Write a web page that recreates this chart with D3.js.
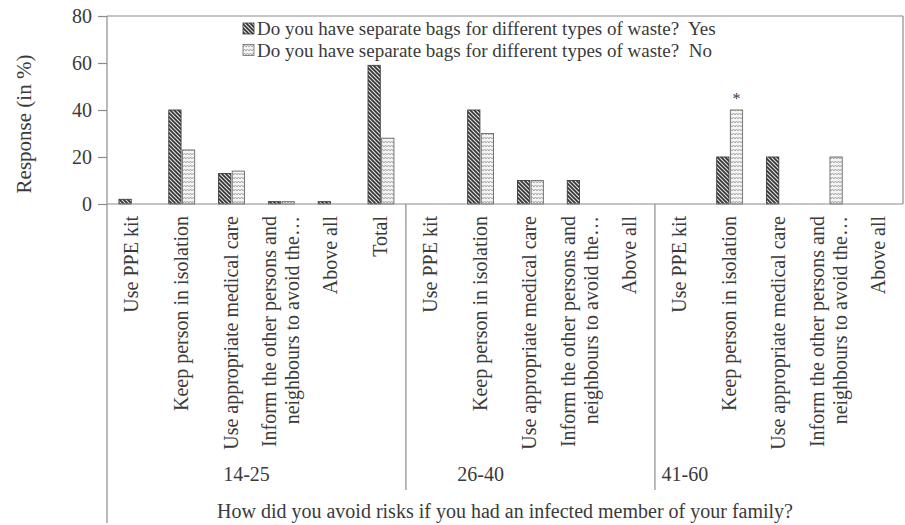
<!DOCTYPE html>
<html>
<head>
<meta charset="utf-8">
<script src="https://cdn.jsdelivr.net/npm/d3@7"></script>
<style>
  html, body { margin: 0; padding: 0; background: #fff; }
  svg { display: block; font-family: "Liberation Serif", "Times New Roman", serif; }
</style>
</head>
<body>
<svg id="chart" width="905" height="525"></svg>
<script>
// ---- data ----
const groups = ["14-25", "26-40", "41-60"];
const groupCategories = [
  ["Use PPE kit", "Keep person in isolation", "Use appropriate medical care", "Inform the other persons and|neighbours to avoid the…", "Above all", "Total"],
  ["Use PPE kit", "Keep person in isolation", "Use appropriate medical care", "Inform the other persons and|neighbours to avoid the…", "Above all"],
  ["Use PPE kit", "Keep person in isolation", "Use appropriate medical care", "Inform the other persons and|neighbours to avoid the…", "Above all"]
];
const seriesNames = [
  "Do you have separate bags for different types of waste?  Yes",
  "Do you have separate bags for different types of waste?  No"
];
const yesValues = [2, 40, 13, 1, 1, 59,   0, 40, 10, 10, 0,   0, 20, 20, 0, 0];
const noValues  = [0, 23, 14, 1, 0, 28,   0, 30, 10, 0, 0,    0, 40, 0, 20, 0];
const yTicks = [0, 20, 40, 60, 80];
const annotations = [{ index: 12, series: 1, text: "*" }];
const yTitle = "Response (in %)";
const xTitle = "How did you avoid risks if you had an infected member of your family?";

// ---- layout ----
const W = 905, H = 525;
const plot = { left: 107, right: 904, top: 16, bottom: 204 };
const textColor = "#3a3a3a";
const lineColor = "#8c8c8c";

const svg = d3.select("#chart");

// flatten categories
const cats = [];
groups.forEach((g, gi) => groupCategories[gi].forEach((c, ci) => cats.push({ key: g + "|" + ci, group: g, gi, label: c })));
cats.forEach((c, i) => { c.yes = yesValues[i]; c.no = noValues[i]; });

const x0 = d3.scaleBand().domain(cats.map(c => c.key)).range([plot.left, plot.right]).padding(0);
const step = x0.step();
const x1 = d3.scaleBand().domain(["yes", "no"]).range([step * 0.24, step * 0.76]).paddingInner(0.1);
const y = d3.scaleLinear().domain([0, 80]).range([plot.bottom, plot.top]);

// ---- patterns ----
const defs = svg.append("defs");
const pYes = defs.append("pattern").attr("id", "pYes").attr("patternUnits", "userSpaceOnUse")
  .attr("width", 4).attr("height", 4);
pYes.append("rect").attr("width", 4).attr("height", 4).attr("fill", "#e0e0e0");
pYes.append("path").attr("d", "M-1,-1 L5,5 M-1,3 L1,5 M3,-1 L5,1").attr("stroke", "#333").attr("stroke-width", 1.6);

const pNo = defs.append("pattern").attr("id", "pNo").attr("patternUnits", "userSpaceOnUse")
  .attr("width", 6).attr("height", 4);
pNo.append("rect").attr("width", 6).attr("height", 4).attr("fill", "#f4f4f4");
pNo.append("path").attr("d", "M0,3 L1.5,1 L3,3 L4.5,1 L6,3").attr("fill", "none").attr("stroke", "#a8a8a8").attr("stroke-width", 1);

// ---- plot frame (top and right) ----
svg.append("line").attr("x1", plot.left).attr("x2", plot.right - 1).attr("y1", plot.top).attr("y2", plot.top)
  .attr("stroke", lineColor).attr("stroke-width", 1.2);
svg.append("line").attr("x1", plot.right - 1).attr("x2", plot.right - 1).attr("y1", plot.top).attr("y2", plot.bottom)
  .attr("stroke", lineColor).attr("stroke-width", 1.2);

// ---- bars ----
const barG = svg.append("g");
cats.forEach((c, i) => {
  [["yes", c.yes, "url(#pYes)", "#3c3c3c"], ["no", c.no, "url(#pNo)", "#6a6a6a"]].forEach(([s, v, fill, stroke]) => {
    if (v <= 0) return;
    barG.append("rect")
      .attr("x", x0(c.key) + x1(s))
      .attr("y", y(v))
      .attr("width", x1.bandwidth())
      .attr("height", y(0) - y(v))
      .attr("fill", fill)
      .attr("stroke", stroke)
      .attr("stroke-width", 0.9);
  });
});

// annotations
annotations.forEach(a => {
  const c = cats[a.index];
  const s = a.series === 0 ? "yes" : "no";
  const v = a.series === 0 ? c.yes : c.no;
  svg.append("text")
    .attr("x", x0(c.key) + x1(s) + x1.bandwidth() / 2)
    .attr("y", y(v) - 6)
    .attr("text-anchor", "middle")
    .attr("font-size", 16)
    .attr("fill", textColor)
    .text(a.text);
});

// ---- y axis ----
const yAxis = d3.axisLeft(y).tickValues(yTicks).tickSize(9).tickPadding(6);
const yg = svg.append("g").attr("transform", `translate(${plot.left},0)`).call(yAxis);
yg.select(".domain").remove();
yg.selectAll(".tick line").attr("stroke", lineColor).attr("stroke-width", 1.2);
yg.selectAll(".tick text").attr("font-size", 20).attr("fill", textColor)
  .attr("font-family", "Liberation Serif, Times New Roman, serif");

// y axis line extends through label area
svg.append("line").attr("x1", plot.left).attr("x2", plot.left).attr("y1", plot.top).attr("y2", H - 2)
  .attr("stroke", lineColor).attr("stroke-width", 1.2);

// zero baseline
svg.append("line").attr("x1", plot.left).attr("x2", plot.right - 1).attr("y1", y(0)).attr("y2", y(0))
  .attr("stroke", lineColor).attr("stroke-width", 1.2);

// y title
svg.append("text")
  .attr("transform", `translate(31,${(plot.top + plot.bottom) / 2 + 14}) rotate(-90)`)
  .attr("text-anchor", "middle")
  .attr("font-size", 21)
  .attr("fill", textColor)
  .text(yTitle);

// ---- category labels ----
const labelTop = plot.bottom + 12;
const catG = svg.append("g");
cats.forEach(c => {
  const lines = c.label.split("|");
  const cx = x0(c.key) + step / 2;
  const lh = 23;
  lines.forEach((ln, li) => {
    const off = (li - (lines.length - 1) / 2) * lh;
    catG.append("text")
      .attr("transform", `translate(${cx + off + 6},${labelTop}) rotate(-90)`)
      .attr("text-anchor", "end")
      .attr("font-size", 20)
      .attr("fill", textColor)
      .text(ln);
  });
});

// ---- group separators and labels ----
const groupBounds = groups.map((g, gi) => {
  const keys = cats.filter(c => c.gi === gi).map(c => c.key);
  return { g, start: x0(keys[0]), end: x0(keys[keys.length - 1]) + step, n: keys.length };
});
groupBounds.forEach((b, i) => {
  if (i > 0) {
    svg.append("line").attr("x1", b.start).attr("x2", b.start).attr("y1", plot.bottom).attr("y2", 490)
      .attr("stroke", lineColor).attr("stroke-width", 1.2);
  }
});
// label anchors, expressed as a fractional category slot inside each group
const groupLabelSlot = [2.3, 1.0, 0.1];
groupBounds.forEach((b, i) => {
  svg.append("text")
    .attr("x", b.start + groupLabelSlot[i] * step + step / 2)
    .attr("y", 481)
    .attr("text-anchor", "middle")
    .attr("font-size", 20)
    .attr("fill", textColor)
    .text(b.g);
});

// x title
svg.append("text")
  .attr("x", 505)
  .attr("y", 518)
  .attr("text-anchor", "middle")
  .attr("font-size", 20)
  .attr("fill", textColor)
  .text(xTitle);

// ---- legend ----
const legend = svg.append("g").attr("transform", "translate(243,24)");
seriesNames.forEach((name, i) => {
  const gy = i * 21.5;
  legend.append("rect").attr("x", 0).attr("y", gy - 1).attr("width", 11).attr("height", 11)
    .attr("fill", i === 0 ? "url(#pYes)" : "url(#pNo)")
    .attr("stroke", i === 0 ? "#3c3c3c" : "#6a6a6a").attr("stroke-width", 0.8);
  legend.append("text").attr("x", 14).attr("y", gy + 11)
    .attr("font-size", 19)
    .attr("fill", textColor)
    .attr("xml:space", "preserve")
    .style("white-space", "pre")
    .text(name);
});
</script>
</body>
</html>
